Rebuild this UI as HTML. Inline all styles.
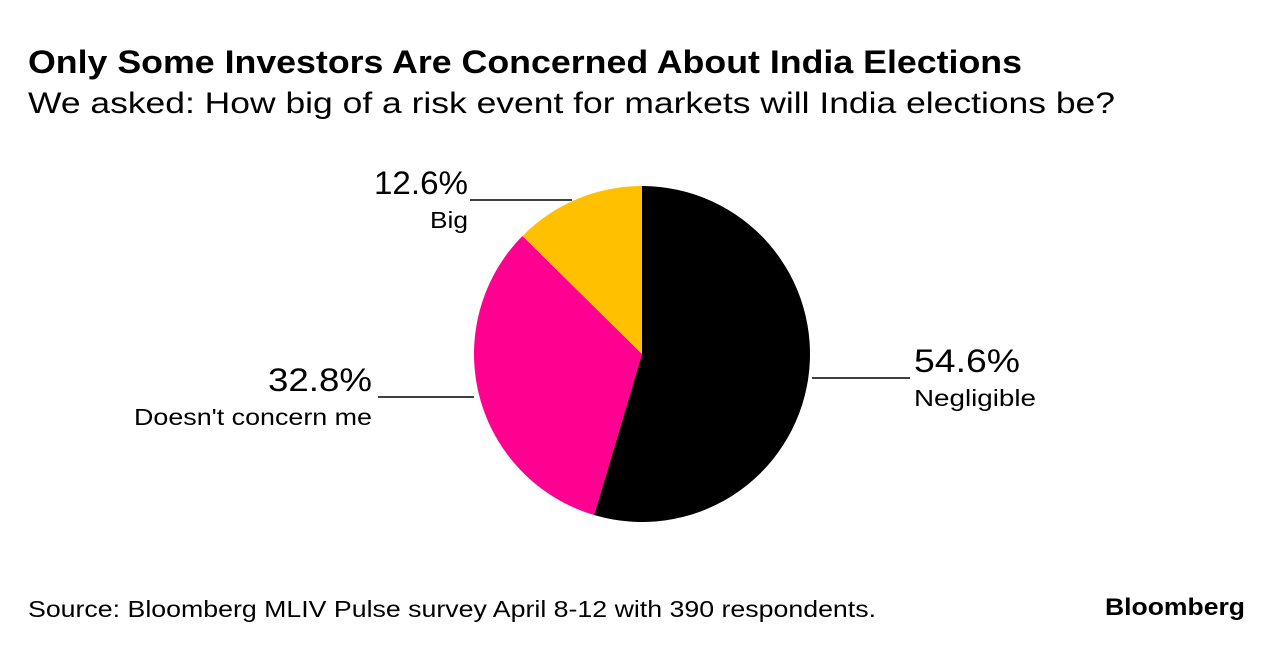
<!DOCTYPE html>
<html><head><meta charset="utf-8"><style>
body{margin:0;width:1284px;height:650px;background:#fff;font-family:"Liberation Sans",sans-serif;overflow:hidden}
</style></head><body>
<svg width="1284" height="650">
<text x="28" y="73" font-size="32" font-weight="bold" fill="#000" textLength="994" lengthAdjust="spacingAndGlyphs">Only Some Investors Are Concerned About India Elections</text>
<text x="28" y="113" font-size="30" fill="#000" textLength="1087" lengthAdjust="spacingAndGlyphs">We asked: How big of a risk event for markets will India elections be?</text>
<g id="pie"></g>
<g id="labels"></g>
<text x="28" y="617" font-size="23" fill="#000" textLength="848" lengthAdjust="spacingAndGlyphs">Source: Bloomberg MLIV Pulse survey April 8-12 with 390 respondents.</text>
<text x="1105" y="615" font-size="24" font-weight="bold" fill="#000" textLength="140" lengthAdjust="spacingAndGlyphs">Bloomberg</text>
</svg>
<script>
const categories=["Negligible","Doesn't concern me","Big"];
const values=[54.6,32.8,12.6];
const colors=["#000000","#ff0090","#ffc000"];
const cx=642,cy=354,r=168;
const ns="http://www.w3.org/2000/svg";
const pie=document.getElementById('pie'),lab=document.getElementById('labels');
const total=values.reduce((a,b)=>a+b,0);
function pt(a,rr){return [cx+rr*Math.sin(a),cy-rr*Math.cos(a)];}
let a0=0;
values.forEach((v,i)=>{
  const a1=a0+v/total*2*Math.PI;
  const p0=pt(a0,r),p1=pt(a1,r);
  const p=document.createElementNS(ns,'path');
  p.setAttribute('d',`M${cx},${cy}L${p0[0]},${p0[1]}A${r},${r} 0 ${a1-a0>Math.PI?1:0} 1 ${p1[0]},${p1[1]}Z`);
  p.setAttribute('fill',colors[i]);
  
  
  pie.appendChild(p);
  a0=a1;
});
// label layouts: [lineX1,lineX2,lineY,textX,anchor,valueWidth,catWidth]
const lays=[[812,910,378,914,'start',106,122],[378,474,397,372,'end',104,238],[470,572,200,468,'end',94,38]];
values.forEach((v,i)=>{
  const L=lays[i];
  const ln=document.createElementNS(ns,'line');
  ln.setAttribute('x1',L[0]);ln.setAttribute('x2',L[1]);ln.setAttribute('y1',L[2]);ln.setAttribute('y2',L[2]);
  ln.setAttribute('stroke','#000');ln.setAttribute('stroke-width','1.5');
  
  
  lab.appendChild(ln);
  const t1=document.createElementNS(ns,'text');
  t1.setAttribute('x',L[3]);t1.setAttribute('y',L[2]-6);t1.setAttribute('font-size','32');t1.setAttribute('text-anchor',L[4]);
  t1.setAttribute('textLength',L[5]);t1.setAttribute('lengthAdjust','spacingAndGlyphs');
  t1.textContent=v.toFixed(1)+'%';
  
  
  lab.appendChild(t1);
  const t2=document.createElementNS(ns,'text');
  t2.setAttribute('x',L[3]);t2.setAttribute('y',L[2]+28);t2.setAttribute('font-size','23');t2.setAttribute('text-anchor',L[4]);
  t2.setAttribute('textLength',L[6]);t2.setAttribute('lengthAdjust','spacingAndGlyphs');
  t2.textContent=categories[i];
  
  
  lab.appendChild(t2);
});
</script>
</body></html>
